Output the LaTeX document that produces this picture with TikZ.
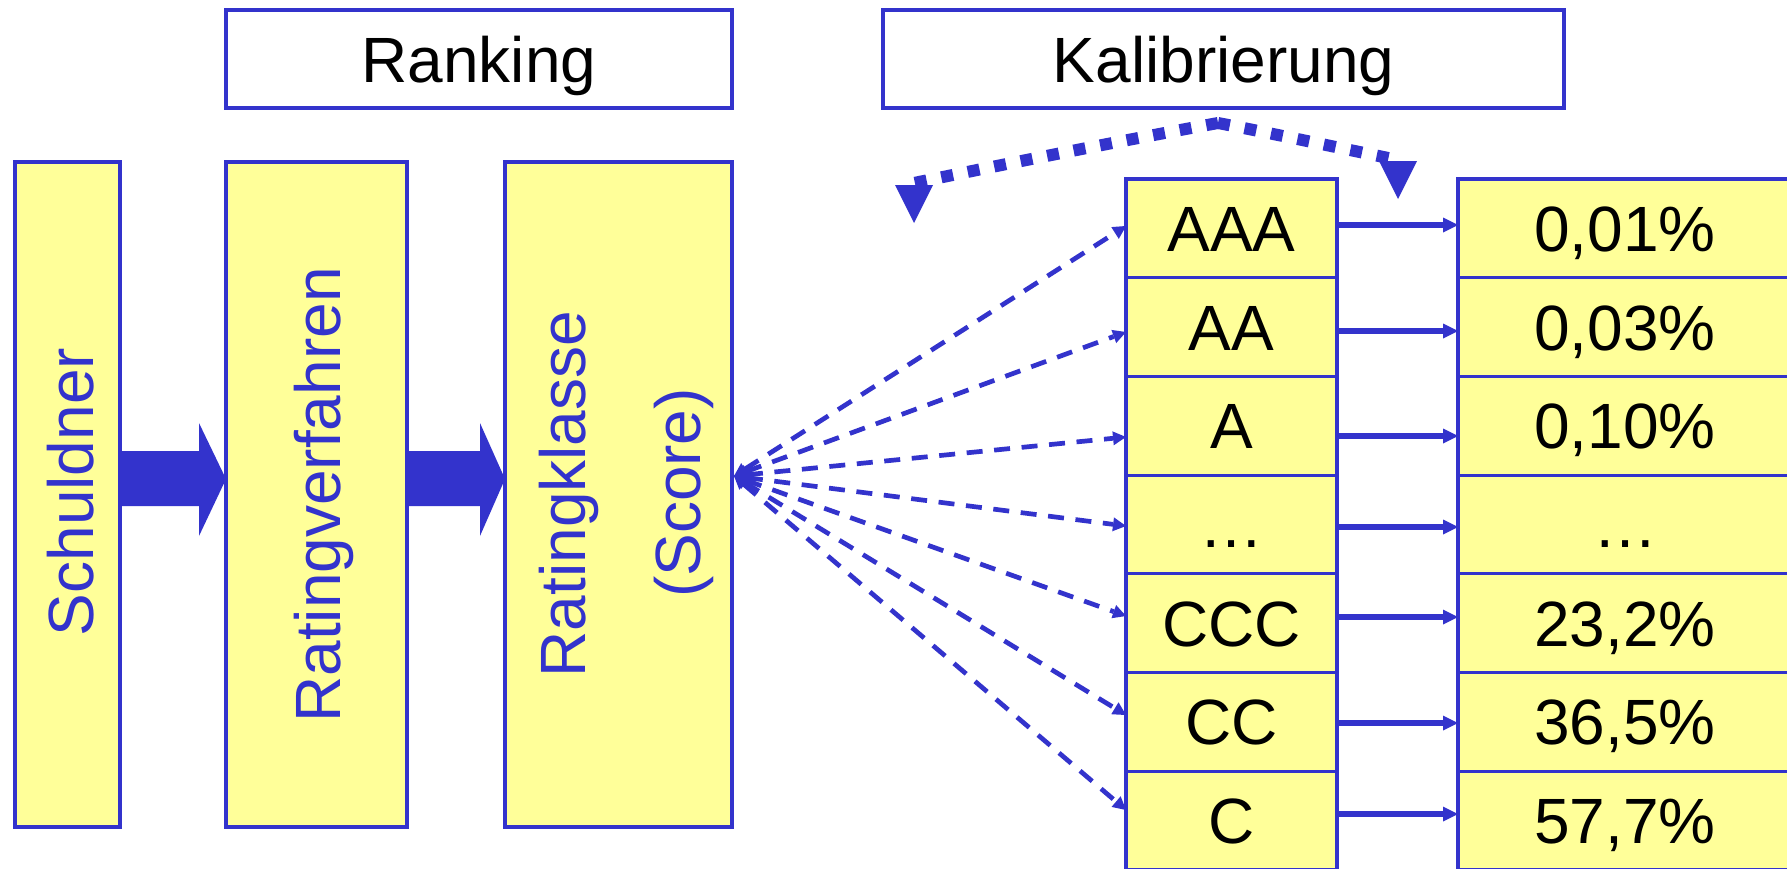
\documentclass[tikz,border=0pt]{standalone}
\usepackage{fontspec}
\setmainfont{Liberation Sans}
\usetikzlibrary{arrows.meta,calc}
\definecolor{lineblue}{RGB}{51,51,204}
\definecolor{cellyellow}{RGB}{255,255,153}

\begin{document}
\begin{tikzpicture}[x=0.5pt,y=-0.5pt,
  bigfont/.style={font=\fontsize{32}{38}\selectfont},
  framed/.style={draw=lineblue,line width=1.6pt,inner sep=0pt,outer sep=0pt},
  headbox/.style={framed,fill=white,bigfont,minimum height=49pt,
    text height=23pt,text depth=0pt},
  tallbox/.style={framed,fill=cellyellow,minimum height=332.5pt},
  cell/.style={framed,fill=cellyellow,bigfont,minimum height=49.35pt,
    text height=23pt,text depth=0pt},
  lcell/.style={cell,minimum width=105.5pt},
  rcell/.style={cell,minimum width=167pt},
  vtext/.style={bigfont,text=lineblue,rotate=90,anchor=base,inner sep=0pt},
  fanarrow/.style={draw=lineblue,line width=2.35pt,dash pattern=on 8pt off 5.8pt,
    {Triangle[length=6.5pt,width=7pt,line width=0pt]}-{Triangle[length=6.5pt,width=7pt,line width=0pt]}},
  maparrow/.style={draw=lineblue,line width=3pt,
    -{Triangle[length=7.5pt,width=7.5pt,line width=0pt]}},
  dotcurve/.style={draw=lineblue,line width=6pt,dash pattern=on 6pt off 7.5pt,
    -{Triangle[length=19pt,width=19pt,line width=0pt]}}
]
\path[fill=white,use as bounding box] (0,0) rectangle (1787,868);

% header boxes
\node[headbox,minimum width=253pt] (rank) at (479,59) {Ranking};
\node[headbox,minimum width=340.5pt] (kal) at (1223.5,59) {Kalibrierung};

% ranking stage
\node[tallbox,minimum width=52.5pt] (schuld) at (67.5,494.5) {};
\node[tallbox,minimum width=90.5pt] (verf) at (316.5,494.5) {};
\node[tallbox,minimum width=113.5pt] (klasse) at (618.5,494.5) {};
\node[vtext] (schuldtxt) at (93.5,492) {Schuldner};
\node[vtext] (verftxt) at (340,495) {Ratingverfahren};
\node[vtext] (klassetxt) at (585,494) {Ratingklasse};
\node[vtext] (scoretxt) at (700,493) {(Score)};

% broad block arrows between the stages
\fill[lineblue] ($(schuld.east)+(0,-43.5)$) -- ($(verf.west)+(-27,-43.5)$)
  -- ($(verf.west)+(-27,-71.5)$) -- ($(verf.west)+(0,-15.5)$)
  -- ($(verf.west)+(-27,41.5)$) -- ($(verf.west)+(-27,11.5)$)
  -- ($(schuld.east)+(0,11.5)$) -- cycle;
\fill[lineblue] ($(verf.east)+(0,-43.5)$) -- ($(klasse.west)+(-25,-43.5)$)
  -- ($(klasse.west)+(-25,-71.5)$) -- ($(klasse.west)+(0,-15.5)$)
  -- ($(klasse.west)+(-25,41.5)$) -- ($(klasse.west)+(-25,11.5)$)
  -- ($(verf.east)+(0,11.5)$) -- cycle;

% rating classes
\node[lcell] (a1) at (1231.5,228.4) {AAA};
\node[lcell] (a2) at (1231.5,327.1) {AA};
\node[lcell] (a3) at (1231.5,425.8) {A};
\node[lcell] (a4) at (1231.5,524.5) {…};
\node[lcell] (a5) at (1231.5,623.2) {CCC};
\node[lcell] (a6) at (1231.5,721.9) {CC};
\node[lcell] (a7) at (1231.5,820.6) {C};

% default probabilities
\node[rcell] (p1) at (1625,228.4) {0,01\%};
\node[rcell] (p2) at (1625,327.1) {0,03\%};
\node[rcell] (p3) at (1625,425.8) {0,10\%};
\node[rcell] (p4) at (1625,524.5) {…};
\node[rcell] (p5) at (1625,623.2) {23,2\%};
\node[rcell] (p6) at (1625,721.9) {36,5\%};
\node[rcell] (p7) at (1625,820.6) {57,7\%};

% score fanned out to the classes
\coordinate (fan) at ($(klasse.east)+(2,-18.5)$);
\draw[fanarrow] (fan) -- ($(a1.west)+(0,-2.4)$);
\draw[fanarrow] (fan) -- ($(a2.west)+(0,4.9)$);
\draw[fanarrow] (fan) -- ($(a3.west)+(0,11.2)$);
\draw[fanarrow] (fan) -- ($(a4.west)+(0,1.5)$);
\draw[fanarrow] (fan) -- ($(a5.west)+(0,-7.2)$);
\draw[fanarrow] (fan) -- ($(a6.west)+(0,-6.9)$);
\draw[fanarrow] (fan) -- ($(a7.west)+(0,-10.6)$);

% class to probability
\draw[maparrow] ($(a1.east)+(0,-3.4)$) -- ($(p1.west)+(0,-3.4)$);
\draw[maparrow] ($(a2.east)+(0,3.9)$) -- ($(p2.west)+(0,3.9)$);
\draw[maparrow] ($(a3.east)+(0,10.2)$) -- ($(p3.west)+(0,10.2)$);
\draw[maparrow] ($(a4.east)+(0,2.5)$) -- ($(p4.west)+(0,2.5)$);
\draw[maparrow] ($(a5.east)+(0,-6.2)$) -- ($(p5.west)+(0,-6.2)$);
\draw[maparrow] ($(a6.east)+(0,1.1)$) -- ($(p6.west)+(0,1.1)$);
\draw[maparrow] ($(a7.east)+(0,-6.6)$) -- ($(p7.west)+(0,-6.6)$);

% calibration bracket
\coordinate (apex) at ($(kal.south)+(-5.5,15)$);
\coordinate (ltip) at (914,223);
\coordinate (rtip) at (1398,199);
\draw[dotcurve] (apex) .. controls (1115,142) and (1015,162) .. (914,183) -- (ltip);
\draw[dotcurve] (apex) .. controls (1275,134) and (1335,147) .. (1398,160) -- (rtip);
\end{tikzpicture}
\end{document}
